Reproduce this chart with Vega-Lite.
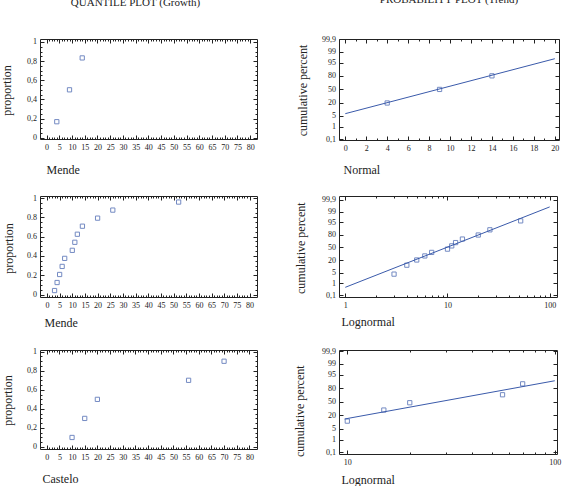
{
  "$schema": "https://vega.github.io/schema/vega-lite/v6.json",
  "padding": {"left": -1, "top": -7, "right": 6, "bottom": 0},
  "columns": 2,
  "align": "each",
  "spacing": {"row": 17, "column": 35},
  "config": {
    "font": "Liberation Serif",
    "view": {"stroke": "#222", "strokeWidth": 1},
    "axis": {
      "domain": false, "grid": false, "ticks": true, "tickWidth": 1, "tickColor": "#222",
      "labelFont": "Liberation Serif", "labelFontSize": 8, "labelColor": "#222",
      "labelFlush": false, "labelOverlap": false,
      "titleFont": "Liberation Serif", "titleFontSize": 12, "titleFontWeight": "normal", "titleColor": "#222"
    },
    "title": {"font": "Liberation Serif", "fontSize": 11, "fontWeight": "normal", "color": "#222", "baseline": "alphabetic", "offset": 30, "anchor": "middle"}
  },
  "datasets": {
    "growth_mende_a": [
      {"growth": 4, "proportion": 0.1667},
      {"growth": 9, "proportion": 0.5},
      {"growth": 14, "proportion": 0.8333}
    ],
    "trend_mende_a": [
      {"trend": 4, "z": -0.85},
      {"trend": 9, "z": -0.01},
      {"trend": 14, "z": 0.83}
    ],
    "fit_normal_a": [
      {"trend": 0, "z": -1.51},
      {"trend": 20, "z": 1.89}
    ],
    "growth_mende_b": [
      {"growth": 3, "proportion": 0.0417},
      {"growth": 4, "proportion": 0.125},
      {"growth": 5, "proportion": 0.2083},
      {"growth": 6, "proportion": 0.2917},
      {"growth": 7, "proportion": 0.375},
      {"growth": 10, "proportion": 0.4583},
      {"growth": 11, "proportion": 0.5417},
      {"growth": 12, "proportion": 0.625},
      {"growth": 14, "proportion": 0.7083},
      {"growth": 20, "proportion": 0.7917},
      {"growth": 26, "proportion": 0.875},
      {"growth": 52, "proportion": 0.9583}
    ],
    "trend_mende_b": [
      {"trend": 3, "z": -1.732},
      {"trend": 4, "z": -1.15},
      {"trend": 5, "z": -0.812},
      {"trend": 6, "z": -0.549},
      {"trend": 7, "z": -0.319},
      {"trend": 10, "z": -0.105},
      {"trend": 11, "z": 0.105},
      {"trend": 12, "z": 0.319},
      {"trend": 14, "z": 0.549},
      {"trend": 20, "z": 0.812},
      {"trend": 26, "z": 1.15},
      {"trend": 52, "z": 1.732}
    ],
    "fit_lognormal_b": [
      {"trend": 1, "z": -2.59},
      {"trend": 100, "z": 2.64}
    ],
    "growth_castelo": [
      {"growth": 10, "proportion": 0.1},
      {"growth": 15, "proportion": 0.3},
      {"growth": 20, "proportion": 0.5},
      {"growth": 56, "proportion": 0.7},
      {"growth": 70, "proportion": 0.9}
    ],
    "trend_castelo": [
      {"trend": 10, "z": -1.19},
      {"trend": 15, "z": -0.51},
      {"trend": 20, "z": -0.06},
      {"trend": 56, "z": 0.43},
      {"trend": 70, "z": 1.1}
    ],
    "fit_lognormal_c": [
      {"trend": 9.7, "z": -1.06},
      {"trend": 100, "z": 1.29}
    ]
  },
  "concat": [
    {
      "title": {"text": "QUANTILE PLOT (Growth)", "dx": -13},
      "width": 217, "height": 100,
      "data": {"name": "growth_mende_a"},
      "layer": [
        {
          "mark": {"type": "point", "shape": "square", "filled": false, "size": 18, "strokeWidth": 1, "color": "#3a5aaa"},
          "encoding": {
            "x": {"field": "growth", "type": "quantitative", "scale": {"domain": [-2.6, 82.7], "nice": false, "zero": false},
              "axis": {"orient": "bottom", "title": "Mende", "titleX": 6, "titleY": 34.5, "titleAlign": "left", "titleBaseline": "alphabetic",
                "values": [0,1,2,3,4,5,6,7,8,9,10,11,12,13,14,15,16,17,18,19,20,21,22,23,24,25,26,27,28,29,30,31,32,33,34,35,36,37,38,39,40,41,42,43,44,45,46,47,48,49,50,51,52,53,54,55,56,57,58,59,60,61,62,63,64,65,66,67,68,69,70,71,72,73,74,75,76,77,78,79,80],
                "labelExpr": "datum.value % 5 === 0 ? format(datum.value, 'd') : ''",
                "tickSize": {"condition": {"test": "datum.value % 5 === 0", "value": -4}, "value": -2},
                "labelPadding": 8}},
            "y": {"field": "proportion", "type": "quantitative", "scale": {"domain": [-0.014, 1.031], "nice": false, "zero": false},
              "axis": {"orient": "left", "title": "proportion", "titleX": -34, "titleY": 51, "titleAlign": "center", "titleBaseline": "middle", "titleAngle": -90,
                "values": [0,0.05,0.1,0.15,0.2,0.25,0.3,0.35,0.4,0.45,0.5,0.55,0.6,0.65,0.7,0.75,0.8,0.85,0.9,0.95,1],
                "labelExpr": "abs(datum.value * 5 - round(datum.value * 5)) < 0.001 ? replace(format(datum.value, '~g'), '.', ',') : ''",
                "tickSize": {"condition": {"test": "abs(datum.value * 5 - round(datum.value * 5)) < 0.001", "value": -4}, "value": -2},
                "labelPadding": 7.5}}
          }
        },
        {
          "mark": {"type": "point", "opacity": 0},
          "encoding": {
            "x": {"field": "growth", "type": "quantitative", "scale": {"domain": [-2.6, 82.7], "nice": false, "zero": false},
              "axis": {"orient": "top", "title": null, "labels": false,
                "values": [0,1,2,3,4,5,6,7,8,9,10,11,12,13,14,15,16,17,18,19,20,21,22,23,24,25,26,27,28,29,30,31,32,33,34,35,36,37,38,39,40,41,42,43,44,45,46,47,48,49,50,51,52,53,54,55,56,57,58,59,60,61,62,63,64,65,66,67,68,69,70,71,72,73,74,75,76,77,78,79,80],
                "tickSize": {"condition": {"test": "datum.value % 5 === 0", "value": -4}, "value": -2}}},
            "y": {"field": "proportion", "type": "quantitative", "scale": {"domain": [-0.014, 1.031], "nice": false, "zero": false},
              "axis": {"orient": "right", "title": null, "labels": false,
                "values": [0,0.05,0.1,0.15,0.2,0.25,0.3,0.35,0.4,0.45,0.5,0.55,0.6,0.65,0.7,0.75,0.8,0.85,0.9,0.95,1],
                "tickSize": {"condition": {"test": "abs(datum.value * 5 - round(datum.value * 5)) < 0.001", "value": -4}, "value": -2}}}
          }
        }
      ],
      "resolve": {"axis": {"x": "independent", "y": "independent"}}
    },
    {
      "title": {"text": "PROBABILITY PLOT (Trend)"},
      "width": 220, "height": 101,
      "layer": [
        {
          "data": {"name": "fit_normal_a"},
          "mark": {"type": "line", "color": "#3a5aaa", "strokeWidth": 1},
          "encoding": {
            "x": {"field": "trend", "type": "quantitative", "scale": {"domain": [-0.6, 20.4], "nice": false, "zero": false},
              "axis": {"orient": "top", "title": null, "labels": false,
                "values": [0,1,2,3,4,5,6,7,8,9,10,11,12,13,14,15,16,17,18,19,20],
                "tickSize": {"condition": {"test": "datum.value % 2 === 0", "value": -4}, "value": -2}}},
            "y": {"field": "z", "type": "quantitative", "scale": {"domain": [-3.14, 3.11], "nice": false, "zero": false},
              "axis": {"orient": "right", "title": null, "labels": false, "tickSize": -4,
                "values": [-3.0902, -2.3263, -1.6449, -0.8416, 0, 0.8416, 1.6449, 2.3263, 3.0902]}}
          }
        },
        {
          "data": {"name": "trend_mende_a"},
          "mark": {"type": "point", "shape": "square", "filled": false, "size": 18, "strokeWidth": 1, "color": "#3a5aaa"},
          "encoding": {
            "x": {"field": "trend", "type": "quantitative", "scale": {"domain": [-0.6, 20.4], "nice": false, "zero": false},
              "axis": {"orient": "bottom", "title": "Normal", "titleX": 4, "titleY": 33.5, "titleAlign": "left", "titleBaseline": "alphabetic",
                "values": [0,1,2,3,4,5,6,7,8,9,10,11,12,13,14,15,16,17,18,19,20],
                "labelExpr": "datum.value % 2 === 0 ? format(datum.value, 'd') : ''",
                "tickSize": {"condition": {"test": "datum.value % 2 === 0", "value": -4}, "value": -2},
                "labelPadding": 8}},
            "y": {"field": "z", "type": "quantitative", "scale": {"domain": [-3.14, 3.11], "nice": false, "zero": false},
              "axis": {"orient": "left", "title": "cumulative percent", "titleX": -37, "titleY": 51, "titleAlign": "center", "titleBaseline": "middle", "titleAngle": -90,
                "values": [-3.0902, -2.3263, -1.6449, -0.8416, 0, 0.8416, 1.6449, 2.3263, 3.0902],
                "labelExpr": "datum.value < -3 ? '0,1' : datum.value < -2 ? '1' : datum.value < -1 ? '5' : datum.value < -0.5 ? '20' : datum.value < 0.5 ? '50' : datum.value < 1 ? '80' : datum.value < 2 ? '95' : datum.value < 3 ? '99' : '99,9'",
                "tickSize": -4, "labelPadding": 7.5}}
          }
        }
      ],
      "resolve": {"axis": {"x": "independent", "y": "independent"}}
    },
    {
      "width": 217, "height": 101,
      "data": {"name": "growth_mende_b"},
      "layer": [
        {
          "mark": {"type": "point", "shape": "square", "filled": false, "size": 18, "strokeWidth": 1, "color": "#3a5aaa"},
          "encoding": {
            "x": {"field": "growth", "type": "quantitative", "scale": {"domain": [-2.75, 82.95], "nice": false, "zero": false},
              "axis": {"orient": "bottom", "title": "Mende", "titleX": 4, "titleY": 29, "titleAlign": "left", "titleBaseline": "alphabetic",
                "values": [0,1,2,3,4,5,6,7,8,9,10,11,12,13,14,15,16,17,18,19,20,21,22,23,24,25,26,27,28,29,30,31,32,33,34,35,36,37,38,39,40,41,42,43,44,45,46,47,48,49,50,51,52,53,54,55,56,57,58,59,60,61,62,63,64,65,66,67,68,69,70,71,72,73,74,75,76,77,78,79,80],
                "labelExpr": "datum.value % 5 === 0 ? format(datum.value, 'd') : ''",
                "tickSize": {"condition": {"test": "datum.value % 5 === 0", "value": -4}, "value": -2},
                "labelPadding": 8}},
            "y": {"field": "proportion", "type": "quantitative", "scale": {"domain": [-0.025, 1.021], "nice": false, "zero": false},
              "axis": {"orient": "left", "title": "proportion", "titleX": -32, "titleY": 52, "titleAlign": "center", "titleBaseline": "middle", "titleAngle": -90,
                "values": [0,0.05,0.1,0.15,0.2,0.25,0.3,0.35,0.4,0.45,0.5,0.55,0.6,0.65,0.7,0.75,0.8,0.85,0.9,0.95,1],
                "labelExpr": "abs(datum.value * 5 - round(datum.value * 5)) < 0.001 ? format(datum.value, '~g') : ''",
                "tickSize": {"condition": {"test": "abs(datum.value * 5 - round(datum.value * 5)) < 0.001", "value": -4}, "value": -2},
                "labelPadding": 7.5}}
          }
        },
        {
          "mark": {"type": "point", "opacity": 0},
          "encoding": {
            "x": {"field": "growth", "type": "quantitative", "scale": {"domain": [-2.75, 82.95], "nice": false, "zero": false},
              "axis": {"orient": "top", "title": null, "labels": false,
                "values": [0,1,2,3,4,5,6,7,8,9,10,11,12,13,14,15,16,17,18,19,20,21,22,23,24,25,26,27,28,29,30,31,32,33,34,35,36,37,38,39,40,41,42,43,44,45,46,47,48,49,50,51,52,53,54,55,56,57,58,59,60,61,62,63,64,65,66,67,68,69,70,71,72,73,74,75,76,77,78,79,80],
                "tickSize": {"condition": {"test": "datum.value % 5 === 0", "value": -4}, "value": -2}}},
            "y": {"field": "proportion", "type": "quantitative", "scale": {"domain": [-0.025, 1.021], "nice": false, "zero": false},
              "axis": {"orient": "right", "title": null, "labels": false,
                "values": [0,0.05,0.1,0.15,0.2,0.25,0.3,0.35,0.4,0.45,0.5,0.55,0.6,0.65,0.7,0.75,0.8,0.85,0.9,0.95,1],
                "tickSize": {"condition": {"test": "abs(datum.value * 5 - round(datum.value * 5)) < 0.001", "value": -4}, "value": -2}}}
          }
        }
      ],
      "resolve": {"axis": {"x": "independent", "y": "independent"}}
    },
    {
      "width": 218, "height": 101,
      "layer": [
        {
          "data": {"name": "fit_lognormal_b"},
          "mark": {"type": "line", "color": "#3a5aaa", "strokeWidth": 1},
          "encoding": {
            "x": {"field": "trend", "type": "quantitative", "scale": {"type": "log", "domain": [0.868, 117.9], "nice": false},
              "axis": {"orient": "top", "title": null, "labels": false,
                "values": [1,2,3,4,5,6,7,8,9,10,20,30,40,50,60,70,80,90,100],
                "tickSize": {"condition": {"test": "datum.value === 1 || datum.value === 10 || datum.value === 100", "value": -4}, "value": -2}}},
            "y": {"field": "z", "type": "quantitative", "scale": {"domain": [-3.22, 3.35], "nice": false, "zero": false},
              "axis": {"orient": "right", "title": null, "labels": false, "tickSize": -4,
                "values": [-3.0902, -2.3263, -1.6449, -0.8416, 0, 0.8416, 1.6449, 2.3263, 3.0902]}}
          }
        },
        {
          "data": {"name": "trend_mende_b"},
          "mark": {"type": "point", "shape": "square", "filled": false, "size": 18, "strokeWidth": 1, "color": "#3a5aaa"},
          "encoding": {
            "x": {"field": "trend", "type": "quantitative", "scale": {"type": "log", "domain": [0.868, 117.9], "nice": false},
              "axis": {"orient": "bottom", "title": "Lognormal", "titleX": 2, "titleY": 28.5, "titleAlign": "left", "titleBaseline": "alphabetic",
                "values": [1,2,3,4,5,6,7,8,9,10,20,30,40,50,60,70,80,90,100],
                "labelExpr": "datum.value === 1 || datum.value === 10 || datum.value === 100 ? format(datum.value, 'd') : ''",
                "tickSize": {"condition": {"test": "datum.value === 1 || datum.value === 10 || datum.value === 100", "value": -4}, "value": -2},
                "labelPadding": 8}},
            "y": {"field": "z", "type": "quantitative", "scale": {"domain": [-3.22, 3.35], "nice": false, "zero": false},
              "axis": {"orient": "left", "title": "cumulative percent", "titleX": -38.7, "titleY": 51.7, "titleAlign": "center", "titleBaseline": "middle", "titleAngle": -90,
                "values": [-3.0902, -2.3263, -1.6449, -0.8416, 0, 0.8416, 1.6449, 2.3263, 3.0902],
                "labelExpr": "datum.value < -3 ? '0,1' : datum.value < -2 ? '1' : datum.value < -1 ? '5' : datum.value < -0.5 ? '20' : datum.value < 0.5 ? '50' : datum.value < 1 ? '80' : datum.value < 2 ? '95' : datum.value < 3 ? '99' : '99,9'",
                "tickSize": -4, "labelPadding": 7.5}}
          }
        }
      ],
      "resolve": {"axis": {"x": "independent", "y": "independent"}}
    },
    {
      "width": 217, "height": 99,
      "data": {"name": "growth_castelo"},
      "layer": [
        {
          "mark": {"type": "point", "shape": "square", "filled": false, "size": 18, "strokeWidth": 1, "color": "#3a5aaa"},
          "encoding": {
            "x": {"field": "growth", "type": "quantitative", "scale": {"domain": [-2.65, 83.0], "nice": false, "zero": false},
              "axis": {"orient": "bottom", "title": "Castelo", "titleX": 2, "titleY": 33.5, "titleAlign": "left", "titleBaseline": "alphabetic",
                "values": [0,1,2,3,4,5,6,7,8,9,10,11,12,13,14,15,16,17,18,19,20,21,22,23,24,25,26,27,28,29,30,31,32,33,34,35,36,37,38,39,40,41,42,43,44,45,46,47,48,49,50,51,52,53,54,55,56,57,58,59,60,61,62,63,64,65,66,67,68,69,70,71,72,73,74,75,76,77,78,79,80],
                "labelExpr": "datum.value % 5 === 0 ? format(datum.value, 'd') : ''",
                "tickSize": {"condition": {"test": "datum.value % 5 === 0", "value": -4}, "value": -2},
                "labelPadding": 8}},
            "y": {"field": "proportion", "type": "quantitative", "scale": {"domain": [-0.021, 1.018], "nice": false, "zero": false},
              "axis": {"orient": "left", "title": "proportion", "titleX": -33, "titleY": 50, "titleAlign": "center", "titleBaseline": "middle", "titleAngle": -90,
                "values": [0,0.05,0.1,0.15,0.2,0.25,0.3,0.35,0.4,0.45,0.5,0.55,0.6,0.65,0.7,0.75,0.8,0.85,0.9,0.95,1],
                "labelExpr": "abs(datum.value * 5 - round(datum.value * 5)) < 0.001 ? replace(format(datum.value, '~g'), '.', ',') : ''",
                "tickSize": {"condition": {"test": "abs(datum.value * 5 - round(datum.value * 5)) < 0.001", "value": -4}, "value": -2},
                "labelPadding": 7.5}}
          }
        },
        {
          "mark": {"type": "point", "opacity": 0},
          "encoding": {
            "x": {"field": "growth", "type": "quantitative", "scale": {"domain": [-2.65, 83.0], "nice": false, "zero": false},
              "axis": {"orient": "top", "title": null, "labels": false,
                "values": [0,1,2,3,4,5,6,7,8,9,10,11,12,13,14,15,16,17,18,19,20,21,22,23,24,25,26,27,28,29,30,31,32,33,34,35,36,37,38,39,40,41,42,43,44,45,46,47,48,49,50,51,52,53,54,55,56,57,58,59,60,61,62,63,64,65,66,67,68,69,70,71,72,73,74,75,76,77,78,79,80],
                "tickSize": {"condition": {"test": "datum.value % 5 === 0", "value": -4}, "value": -2}}},
            "y": {"field": "proportion", "type": "quantitative", "scale": {"domain": [-0.021, 1.018], "nice": false, "zero": false},
              "axis": {"orient": "right", "title": null, "labels": false,
                "values": [0,0.05,0.1,0.15,0.2,0.25,0.3,0.35,0.4,0.45,0.5,0.55,0.6,0.65,0.7,0.75,0.8,0.85,0.9,0.95,1],
                "tickSize": {"condition": {"test": "abs(datum.value * 5 - round(datum.value * 5)) < 0.001", "value": -4}, "value": -2}}}
          }
        }
      ],
      "resolve": {"axis": {"x": "independent", "y": "independent"}}
    },
    {
      "width": 218, "height": 104,
      "layer": [
        {
          "data": {"name": "fit_lognormal_c"},
          "mark": {"type": "line", "color": "#3a5aaa", "strokeWidth": 1},
          "encoding": {
            "x": {"field": "trend", "type": "quantitative", "scale": {"type": "log", "domain": [9.12, 102.5], "nice": false},
              "axis": {"orient": "top", "title": null, "labels": false,
                "values": [10,20,30,40,50,60,70,80,90,100],
                "tickSize": {"condition": {"test": "datum.value === 10 || datum.value === 100", "value": -4}, "value": -2}}},
            "y": {"field": "z", "type": "quantitative", "scale": {"domain": [-3.21, 3.18], "nice": false, "zero": false},
              "axis": {"orient": "right", "title": null, "labels": false, "tickSize": -4,
                "values": [-3.0902, -2.3263, -1.6449, -0.8416, 0, 0.8416, 1.6449, 2.3263, 3.0902]}}
          }
        },
        {
          "data": {"name": "trend_castelo"},
          "mark": {"type": "point", "shape": "square", "filled": false, "size": 18, "strokeWidth": 1, "color": "#3a5aaa"},
          "encoding": {
            "x": {"field": "trend", "type": "quantitative", "scale": {"type": "log", "domain": [9.12, 102.5], "nice": false},
              "axis": {"orient": "bottom", "title": "Lognormal", "titleX": 2, "titleY": 29, "titleAlign": "left", "titleBaseline": "alphabetic",
                "values": [10,20,30,40,50,60,70,80,90,100],
                "labelExpr": "datum.value === 10 || datum.value === 100 ? format(datum.value, 'd') : ''",
                "tickSize": {"condition": {"test": "datum.value === 10 || datum.value === 100", "value": -4}, "value": -2},
                "labelPadding": 8}},
            "y": {"field": "z", "type": "quantitative", "scale": {"domain": [-3.21, 3.18], "nice": false, "zero": false},
              "axis": {"orient": "left", "title": "cumulative percent", "titleX": -39.3, "titleY": 60.7, "titleAlign": "center", "titleBaseline": "middle", "titleAngle": -90,
                "values": [-3.0902, -2.3263, -1.6449, -0.8416, 0, 0.8416, 1.6449, 2.3263, 3.0902],
                "labelExpr": "datum.value < -3 ? '0,1' : datum.value < -2 ? '1' : datum.value < -1 ? '5' : datum.value < -0.5 ? '20' : datum.value < 0.5 ? '50' : datum.value < 1 ? '80' : datum.value < 2 ? '95' : datum.value < 3 ? '99' : '99,9'",
                "tickSize": -4, "labelPadding": 7.5}}
          }
        }
      ],
      "resolve": {"axis": {"x": "independent", "y": "independent"}}
    }
  ]
}
